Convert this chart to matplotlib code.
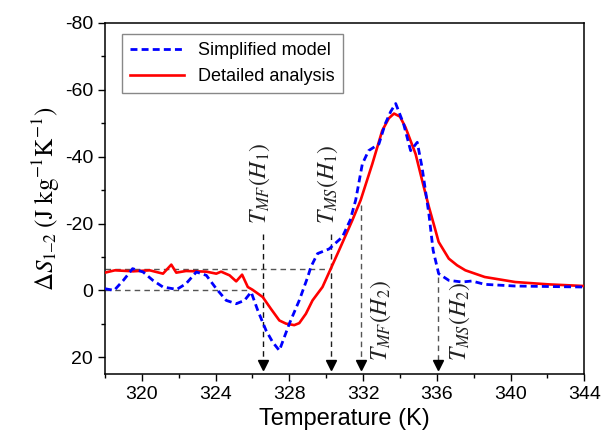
import numpy as np
import matplotlib.pyplot as plt

plt.rcParams['font.family'] = ['Liberation Sans', 'DejaVu Sans']
plt.rcParams['mathtext.fontset'] = 'stix'
plt.rcParams['axes.unicode_minus'] = False

# Detailed analysis (red, solid)
T_red = [318.0, 318.54, 319.53, 320.43, 321.15, 321.6, 321.87, 322.4, 323.5, 324.04,
         324.3, 324.76, 325.12, 325.44, 325.75, 326.0, 326.56, 327.0, 327.46, 327.82,
         328.27, 328.54, 328.9, 329.26, 329.8, 330.25, 330.7, 331.42, 331.87, 332.5,
         333.04, 333.4, 333.68, 334.0, 334.3, 334.85, 335.2, 335.57, 335.85, 336.1,
         336.65, 337.1, 337.55, 338.6, 340.25, 342.05, 344.0]
S_red = [-5.3, -6.0, -5.7, -6.0, -5.0, -7.7, -5.3, -5.8, -5.6, -5.0,
         -5.6, -4.5, -2.7, -4.7, -1.0, -0.2, 2.0, 5.5, 9.0, 9.95,
         10.4, 9.8, 7.0, 3.0, -1.0, -6.5, -12.0, -21.0, -27.0, -37.8,
         -47.8, -51.5, -52.9, -52.0, -48.8, -40.8, -33.0, -25.0, -19.5, -14.5,
         -9.5, -7.5, -6.0, -4.0, -2.5, -1.8, -1.3]

# Simplified model (blue, dashed)
T_blue = [318.0, 318.5, 319.0, 319.5, 320.07, 320.6, 321.15, 321.9, 322.4, 322.96,
          323.5, 324.04, 324.58, 325.12, 325.57, 325.93, 326.29, 326.74, 327.1, 327.46,
          328.0, 328.54, 329.0, 329.17, 329.53, 330.16, 330.88, 331.3, 331.6, 331.96,
          332.3, 332.86, 333.2, 333.5, 333.77, 334.2, 334.58, 334.94, 335.2, 335.57,
          335.8, 336.1, 336.65, 337.37, 337.9, 338.6, 340.25, 344.0]
S_blue = [-0.5, 0.0, -3.0, -6.5, -5.5, -3.0, -1.0, -0.3, -2.0, -5.5,
          -4.5, -0.5, 3.0, 4.0, 3.0, 0.5, 6.0, 12.0, 15.5, 18.0,
          10.0, 3.0, -4.0, -7.0, -11.0, -12.4, -16.0, -21.0, -27.0, -37.8,
          -41.8, -43.8, -49.8, -53.5, -55.9, -49.8, -41.8, -44.3, -36.8, -22.9,
          -12.0, -5.0, -3.0, -2.5, -2.8, -1.8, -1.3, -1.0]

# characteristic temperatures marked with arrows
T_marks = [326.56, 330.25, 331.9, 336.07]
S_mark_top = [-17.0, -17.0, -25.5, -4.0]
mark_labels = [r'$T_{MF}(H_1)$', r'$T_{MS}(H_1)$', r'$T_{MF}(H_2)$', r'$T_{MS}(H_2)$']
mark_colors = ['#111111', '#222222', '#555555', '#555555']
h_levels = [0.0, -6.5]
h_ends = [325.9, 330.25]

fig = plt.figure(figsize=(6.03, 4.42), dpi=100)
ax = fig.add_axes([0.174, 0.154, 0.795, 0.794])

for lev, xe in zip(h_levels, h_ends):
    ax.plot([318, xe], [lev, lev], color='#555555', lw=1.0, ls=(0, (4, 3)))

for t, top, c in zip(T_marks, S_mark_top, mark_colors):
    ax.plot([t, t], [top, 21.5], color=c, lw=1.0, ls=(0, (4, 3)))
    ax.plot([t], [22.3], marker='v', color='black', markersize=7, clip_on=False)

ax.plot(T_red, S_red, color='#ff0000', lw=1.9, label='Detailed analysis', zorder=3)
ax.plot(T_blue, S_blue, color='#0000ff', lw=2.0, ls=(0, (2.5, 1.5)),
        label='Simplified model', zorder=4)

# labels of the arrows
ax.text(326.4, -20.0, mark_labels[0], rotation=90, fontsize=17, ha='center', va='bottom', color='#222222')
ax.text(330.1, -20.0, mark_labels[1], rotation=90, fontsize=17, ha='center', va='bottom', color='#222222')
ax.text(332.95, 21.0, mark_labels[2], rotation=90, fontsize=17, ha='center', va='bottom', color='#222222')
ax.text(337.25, 21.0, mark_labels[3], rotation=90, fontsize=17, ha='center', va='bottom', color='#222222')

ax.set_xlim(318, 344)
ax.set_ylim(25, -80)
ax.set_xticks(np.arange(320, 345, 4))
ax.set_xticks(np.arange(318, 345, 2), minor=True)
ax.set_yticks(np.arange(-80, 21, 20))
ax.set_yticks(np.arange(-80, 21, 10), minor=True)
ax.tick_params(which='both', direction='out', labelsize=14, width=1.0)
ax.tick_params(which='major', length=5)
ax.tick_params(which='minor', length=3)
for sp in ax.spines.values():
    sp.set_linewidth(1.1)

ax.set_xlabel('Temperature (K)', fontsize=17, labelpad=4)
ax.set_ylabel(r'$\Delta S_{\mathrm{1–2}}\ (\mathrm{J\ kg^{-1}K^{-1}})$', fontsize=18, labelpad=2)

handles, labels = ax.get_legend_handles_labels()
leg = ax.legend(handles[::-1], labels[::-1], loc='upper left', bbox_to_anchor=(0.035, 0.969),
                borderaxespad=0, fontsize=13, fancybox=False, edgecolor='#888888', framealpha=1,
                handlelength=3.0, borderpad=0.45, labelspacing=0.5)
leg.get_frame().set_linewidth(1.0)

fig.savefig('out.png', dpi=100)
